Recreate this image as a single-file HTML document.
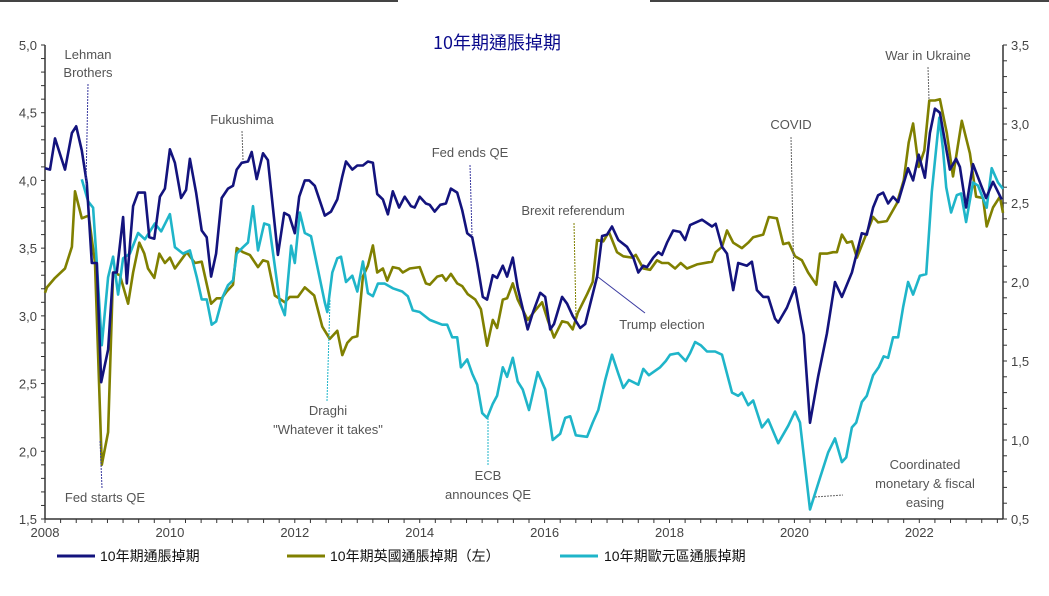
<!DOCTYPE html>
<html><head><meta charset="utf-8"><style>
body{margin:0;background:#fff;}
svg text{font-family:"Liberation Sans","Noto Sans CJK TC",sans-serif;}
</style></head><body>
<svg id="chart" width="1049" height="591" viewBox="0 0 1049 591" xmlns="http://www.w3.org/2000/svg">
<line x1="0" y1="1" x2="398" y2="1" stroke="#444" stroke-width="2"/>
<line x1="650" y1="1" x2="1049" y2="1" stroke="#444" stroke-width="2"/>
<text x="497" y="49" text-anchor="middle" font-size="18" fill="#0a0a8c" style="font-family:'Noto Sans CJK TC',sans-serif">10年期通脹掉期</text>
<g id="axes"></g>
<g id="series"></g>
<g id="annotations" fill="#555" font-size="13" text-anchor="middle">
<text x="88" y="59">Lehman</text>
<text x="88" y="77">Brothers</text>
<line x1="88" y1="84" x2="86" y2="185" stroke="#3a3aa0" stroke-width="1" stroke-dasharray="2,1"/>
<text x="105" y="502">Fed starts QE</text>
<line x1="102" y1="488" x2="100" y2="440" stroke="#3a3aa0" stroke-width="1" stroke-dasharray="2,1"/>
<text x="242" y="124">Fukushima</text>
<line x1="242" y1="131" x2="243" y2="160" stroke="#666" stroke-width="1" stroke-dasharray="2,1"/>
<text x="328" y="415">Draghi</text>
<text x="328" y="434">"Whatever it takes"</text>
<line x1="327" y1="401" x2="330" y2="300" stroke="#1fb5c9" stroke-width="1" stroke-dasharray="2,1"/>
<text x="470" y="157">Fed ends QE</text>
<line x1="470" y1="165" x2="472" y2="235" stroke="#3a3aa0" stroke-width="1" stroke-dasharray="2,1"/>
<text x="573" y="215">Brexit referendum</text>
<line x1="574" y1="223" x2="576" y2="318" stroke="#808000" stroke-width="1" stroke-dasharray="2,1"/>
<text x="662" y="329">Trump election</text>
<line x1="645" y1="313" x2="598" y2="277" stroke="#3a3aa0" stroke-width="1"/>
<text x="488" y="480">ECB</text>
<text x="488" y="499">announces QE</text>
<line x1="488" y1="465" x2="488" y2="418" stroke="#1fb5c9" stroke-width="1" stroke-dasharray="2,1"/>
<text x="791" y="129">COVID</text>
<line x1="791" y1="137" x2="794" y2="285" stroke="#666" stroke-width="1" stroke-dasharray="2,1"/>
<text x="928" y="60">War in Ukraine</text>
<line x1="928" y1="67" x2="929" y2="100" stroke="#666" stroke-width="1" stroke-dasharray="2,1"/>
<text x="925" y="469">Coordinated</text>
<text x="925" y="488">monetary &amp; fiscal</text>
<text x="925" y="507">easing</text>
<line x1="815" y1="497" x2="843" y2="495" stroke="#666" stroke-width="1" stroke-dasharray="2,1"/>
</g>
<g id="legend" font-size="14" fill="#111" style="font-family:'Noto Sans CJK TC',sans-serif">
<line x1="57" y1="556" x2="95" y2="556" stroke="#13137d" stroke-width="3"/>
<text x="100" y="561">10年期通脹掉期</text>
<line x1="287" y1="556" x2="325" y2="556" stroke="#808000" stroke-width="3"/>
<text x="330" y="561">10年期英國通脹掉期（左）</text>
<line x1="560" y1="556" x2="598" y2="556" stroke="#1fb5c9" stroke-width="3"/>
<text x="604" y="561">10年期歐元區通脹掉期</text>
</g>
</svg>
<script>
const usDates=[2008.00,2008.08,2008.16,2008.32,2008.43,2008.50,2008.59,2008.67,2008.75,2008.83,2008.90,2009.01,2009.09,2009.15,2009.25,2009.31,2009.41,2009.49,2009.60,2009.67,2009.75,2009.84,2009.92,2010.00,2010.08,2010.18,2010.26,2010.32,2010.42,2010.51,2010.59,2010.66,2010.74,2010.83,2010.93,2011.01,2011.07,2011.15,2011.25,2011.31,2011.39,2011.49,2011.57,2011.73,2011.83,2011.91,2012.00,2012.07,2012.16,2012.23,2012.32,2012.48,2012.58,2012.68,2012.76,2012.82,2012.92,2013.00,2013.09,2013.17,2013.25,2013.32,2013.41,2013.49,2013.57,2013.67,2013.76,2013.86,2013.92,2014.00,2014.10,2014.16,2014.24,2014.33,2014.42,2014.50,2014.60,2014.68,2014.76,2014.84,2014.92,2015.01,2015.08,2015.17,2015.24,2015.33,2015.40,2015.49,2015.57,2015.73,2015.81,2015.93,2016.01,2016.09,2016.15,2016.28,2016.36,2016.45,2016.57,2016.65,2016.84,2016.92,2017.00,2017.08,2017.18,2017.32,2017.42,2017.50,2017.58,2017.64,2017.74,2017.82,2017.88,2017.96,2018.06,2018.17,2018.25,2018.33,2018.52,2018.68,2018.74,2018.84,2018.92,2019.02,2019.10,2019.24,2019.32,2019.40,2019.50,2019.58,2019.69,2019.74,2019.88,2020.01,2020.15,2020.25,2020.38,2020.52,2020.65,2020.76,2020.92,2021.08,2021.16,2021.26,2021.34,2021.42,2021.50,2021.58,2021.66,2021.82,2021.90,2021.99,2022.09,2022.17,2022.25,2022.33,2022.49,2022.59,2022.65,2022.75,2022.86,2023.00,2023.07,2023.18,2023.32];
const usValues=[4.09,4.08,4.31,4.08,4.35,4.40,4.22,3.98,3.39,3.39,2.51,2.75,3.32,3.32,3.73,3.24,3.81,3.91,3.91,3.58,3.57,3.88,3.94,4.23,4.13,3.87,3.93,4.16,3.91,3.63,3.58,3.29,3.46,3.87,3.94,3.96,4.08,4.13,4.14,4.21,4.01,4.20,4.15,3.45,3.76,3.74,3.61,3.88,4.00,4.00,3.96,3.74,3.77,3.86,4.03,4.14,4.08,4.11,4.11,4.14,4.13,3.90,3.86,3.75,3.92,3.80,3.88,3.81,3.80,3.88,3.83,3.82,3.77,3.82,3.83,3.94,3.91,3.78,3.61,3.58,3.39,3.14,3.12,3.30,3.28,3.37,3.29,3.43,3.21,2.90,3.02,3.17,3.14,2.90,2.94,3.14,3.09,3.00,2.91,2.94,3.29,3.59,3.60,3.66,3.56,3.51,3.43,3.32,3.37,3.36,3.43,3.47,3.45,3.54,3.63,3.62,3.56,3.67,3.71,3.66,3.68,3.51,3.46,3.19,3.39,3.37,3.40,3.19,3.14,3.14,2.98,2.95,3.06,3.21,2.86,2.21,2.55,2.87,3.25,3.14,3.32,3.61,3.60,3.80,3.89,3.91,3.83,3.88,3.84,4.09,4.00,4.19,4.02,4.35,4.53,4.50,4.08,4.16,4.10,3.80,4.12,3.95,3.87,3.99,3.86];
const ukDates=[2008.00,2008.03,2008.16,2008.32,2008.43,2008.48,2008.59,2008.70,2008.80,2008.91,2009.01,2009.09,2009.20,2009.33,2009.41,2009.51,2009.59,2009.65,2009.75,2009.83,2009.92,2010.00,2010.08,2010.16,2010.27,2010.40,2010.51,2010.66,2010.75,2010.83,2010.91,2011.01,2011.07,2011.17,2011.28,2011.41,2011.49,2011.57,2011.68,2011.84,2011.92,2012.05,2012.16,2012.31,2012.44,2012.56,2012.68,2012.76,2012.84,2012.92,2013.00,2013.09,2013.17,2013.25,2013.32,2013.41,2013.48,2013.57,2013.67,2013.73,2013.84,2014.00,2014.10,2014.16,2014.28,2014.36,2014.42,2014.50,2014.60,2014.68,2014.77,2014.89,2014.98,2015.08,2015.17,2015.24,2015.33,2015.40,2015.49,2015.57,2015.73,2015.85,2015.96,2016.05,2016.15,2016.28,2016.37,2016.45,2016.53,2016.68,2016.77,2016.84,2016.94,2017.03,2017.16,2017.26,2017.40,2017.46,2017.58,2017.69,2017.80,2017.88,2017.98,2018.09,2018.18,2018.28,2018.44,2018.68,2018.74,2018.84,2018.92,2019.02,2019.16,2019.26,2019.34,2019.50,2019.59,2019.72,2019.82,2019.91,2020.01,2020.12,2020.22,2020.35,2020.41,2020.52,2020.62,2020.68,2020.76,2020.84,2020.92,2021.00,2021.13,2021.26,2021.34,2021.48,2021.64,2021.75,2021.83,2021.90,2021.99,2022.08,2022.16,2022.25,2022.33,2022.44,2022.54,2022.68,2022.81,2022.91,2023.02,2023.08,2023.18,2023.29,2023.34];
const ukValues=[3.17,3.21,3.28,3.35,3.51,3.92,3.72,3.74,3.39,1.90,2.14,3.32,3.30,3.09,3.32,3.54,3.46,3.35,3.28,3.46,3.39,3.43,3.35,3.40,3.47,3.39,3.40,3.09,3.13,3.13,3.18,3.23,3.50,3.47,3.45,3.36,3.41,3.40,3.15,3.10,3.14,3.14,3.21,3.15,2.92,2.83,2.89,2.71,2.80,2.84,2.85,3.29,3.37,3.52,3.32,3.35,3.26,3.36,3.35,3.32,3.35,3.36,3.24,3.23,3.29,3.30,3.26,3.31,3.24,3.22,3.16,3.12,3.05,2.78,2.97,2.91,3.12,3.13,3.24,3.12,2.97,3.04,3.10,2.97,2.84,2.96,2.95,2.90,3.02,3.16,3.25,3.56,3.55,3.62,3.47,3.44,3.43,3.45,3.35,3.34,3.41,3.39,3.39,3.35,3.39,3.35,3.38,3.40,3.47,3.51,3.63,3.54,3.50,3.54,3.58,3.60,3.73,3.72,3.53,3.54,3.44,3.41,3.32,3.23,3.46,3.46,3.47,3.47,3.60,3.54,3.55,3.43,3.58,3.73,3.69,3.70,3.83,4.00,4.28,4.42,4.10,4.22,4.59,4.59,4.60,4.35,4.03,4.44,4.20,3.88,3.87,3.66,3.80,3.88,3.76];
const euDates=[2008.59,2008.69,2008.77,2008.83,2008.91,2009.01,2009.09,2009.17,2009.25,2009.36,2009.49,2009.60,2009.76,2009.86,2010.00,2010.08,2010.21,2010.32,2010.43,2010.51,2010.59,2010.67,2010.74,2010.85,2010.93,2011.01,2011.07,2011.17,2011.25,2011.33,2011.41,2011.51,2011.59,2011.76,2011.84,2011.94,2012.00,2012.08,2012.16,2012.26,2012.48,2012.52,2012.60,2012.68,2012.74,2012.82,2012.92,2013.00,2013.09,2013.17,2013.25,2013.33,2013.44,2013.57,2013.72,2013.81,2013.89,2014.00,2014.16,2014.36,2014.44,2014.52,2014.60,2014.66,2014.76,2014.84,2014.92,2015.00,2015.08,2015.17,2015.24,2015.33,2015.40,2015.49,2015.57,2015.65,2015.75,2015.89,2016.01,2016.13,2016.25,2016.33,2016.41,2016.50,2016.68,2016.77,2016.86,2016.97,2017.08,2017.18,2017.26,2017.35,2017.50,2017.58,2017.67,2017.85,2017.94,2018.01,2018.14,2018.26,2018.33,2018.41,2018.50,2018.60,2018.73,2018.84,2019.00,2019.10,2019.16,2019.26,2019.34,2019.48,2019.58,2019.74,2019.90,2020.01,2020.09,2020.25,2020.41,2020.54,2020.65,2020.76,2020.83,2020.92,2020.99,2021.08,2021.16,2021.26,2021.35,2021.43,2021.50,2021.58,2021.66,2021.74,2021.82,2021.90,2022.01,2022.11,2022.20,2022.32,2022.38,2022.43,2022.51,2022.60,2022.67,2022.75,2022.86,2022.94,2023.08,2023.16,2023.26,2023.34];
const euValues=[2.65,2.51,2.47,2.12,1.60,2.03,2.16,1.92,2.15,2.18,2.31,2.27,2.37,2.32,2.43,2.22,2.18,2.20,2.03,1.89,1.89,1.73,1.75,1.91,1.98,2.01,2.18,2.22,2.25,2.48,2.20,2.37,2.36,1.87,1.79,2.23,2.12,2.44,2.31,2.29,1.87,1.81,2.06,2.15,2.16,2.00,2.04,1.94,2.13,1.93,1.91,1.99,1.99,1.96,1.94,1.91,1.82,1.81,1.76,1.73,1.73,1.65,1.65,1.46,1.51,1.42,1.35,1.17,1.14,1.23,1.28,1.46,1.40,1.52,1.37,1.32,1.19,1.43,1.32,1.00,1.04,1.14,1.15,1.03,1.02,1.11,1.19,1.38,1.54,1.42,1.33,1.38,1.35,1.45,1.41,1.46,1.50,1.54,1.55,1.50,1.55,1.62,1.60,1.56,1.56,1.54,1.30,1.28,1.30,1.22,1.25,1.08,1.13,0.98,1.09,1.18,1.11,0.56,0.76,0.92,1.01,0.86,0.89,1.08,1.11,1.24,1.28,1.41,1.46,1.53,1.52,1.65,1.65,1.84,2.00,1.92,2.04,2.05,2.57,3.04,2.84,2.60,2.44,2.55,2.56,2.38,2.63,2.61,2.47,2.72,2.63,2.59];
const leftTicks=[1.5,2.0,2.5,3.0,3.5,4.0,4.5,5.0];
const rightTicks=[0.5,1.0,1.5,2.0,2.5,3.0,3.5];
const yearTicks=[2008,2010,2012,2014,2016,2018,2020,2022];

const NS='http://www.w3.org/2000/svg';
const X0=45,X1=1003,Y0=45,Y1=519;
const xs=y=>X0+(y-2008)*62.45;
const yl=v=>Y1-(v-1.5)/(5.0-1.5)*(Y1-Y0);
const yr=v=>Y1-(v-0.5)/(3.5-0.5)*(Y1-Y0);
function mk(tag,attrs,parent){const e=document.createElementNS(NS,tag);for(const k in attrs)e.setAttribute(k,attrs[k]);parent.appendChild(e);return e;}
const axes=document.getElementById('axes');
const la=mk('line',{x1:X0,y1:Y0,x2:X0,y2:Y1,stroke:'#333','stroke-width':1.5},axes);


const ra=mk('line',{x1:X1,y1:Y0,x2:X1,y2:Y1,stroke:'#333','stroke-width':1.5},axes);


const ba=mk('line',{x1:X0,y1:Y1,x2:X1,y2:Y1,stroke:'#333','stroke-width':1.5},axes);


for(let v=1.5;v<=5.0001;v+=0.1){const t=mk('line',{x1:X0-4,y1:yl(v),x2:X0,y2:yl(v),stroke:'#333','stroke-width':1},axes);

}
for(let v=0.5;v<=3.5001;v+=0.1){const t=mk('line',{x1:X1,y1:yr(v),x2:X1+4,y2:yr(v),stroke:'#333','stroke-width':1},axes);

}
for(let m=0;m<=184;m+=3){const x=X0+m/12*62.45;if(x>X1)break;const t=mk('line',{x1:x,y1:Y1,x2:x,y2:Y1+4,stroke:'#333','stroke-width':1},axes);

}
leftTicks.forEach(v=>{const t=mk('text',{x:X0-8,y:yl(v)+5,'text-anchor':'end','font-size':13,fill:'#444'},axes);t.textContent=v.toFixed(1).replace('.',',');

});
rightTicks.forEach(v=>{const t=mk('text',{x:X1+8,y:yr(v)+5,'text-anchor':'start','font-size':13,fill:'#444'},axes);t.textContent=v.toFixed(1).replace('.',',');

});
yearTicks.forEach(v=>{const t=mk('text',{x:xs(v),y:Y1+18,'text-anchor':'middle','font-size':13,fill:'#444'},axes);t.textContent=v;

});
const sg=document.getElementById('series');
function line(dates,vals,yf,color,name){const d=dates.map((t,i)=>(i?'L':'M')+xs(t).toFixed(1)+','+yf(vals[i]).toFixed(1)).join('');
const p=mk('path',{d:d,fill:'none',stroke:color,'stroke-width':2.6,'stroke-linejoin':'round'},sg);

}
line(ukDates,ukValues,yl,'#808000','uk-inflation-swap-line');
line(euDates,euValues,yr,'#1fb5c9','eurozone-inflation-swap-line');
line(usDates,usValues,yl,'#13137d','us-inflation-swap-line');
</script>
</body></html>
